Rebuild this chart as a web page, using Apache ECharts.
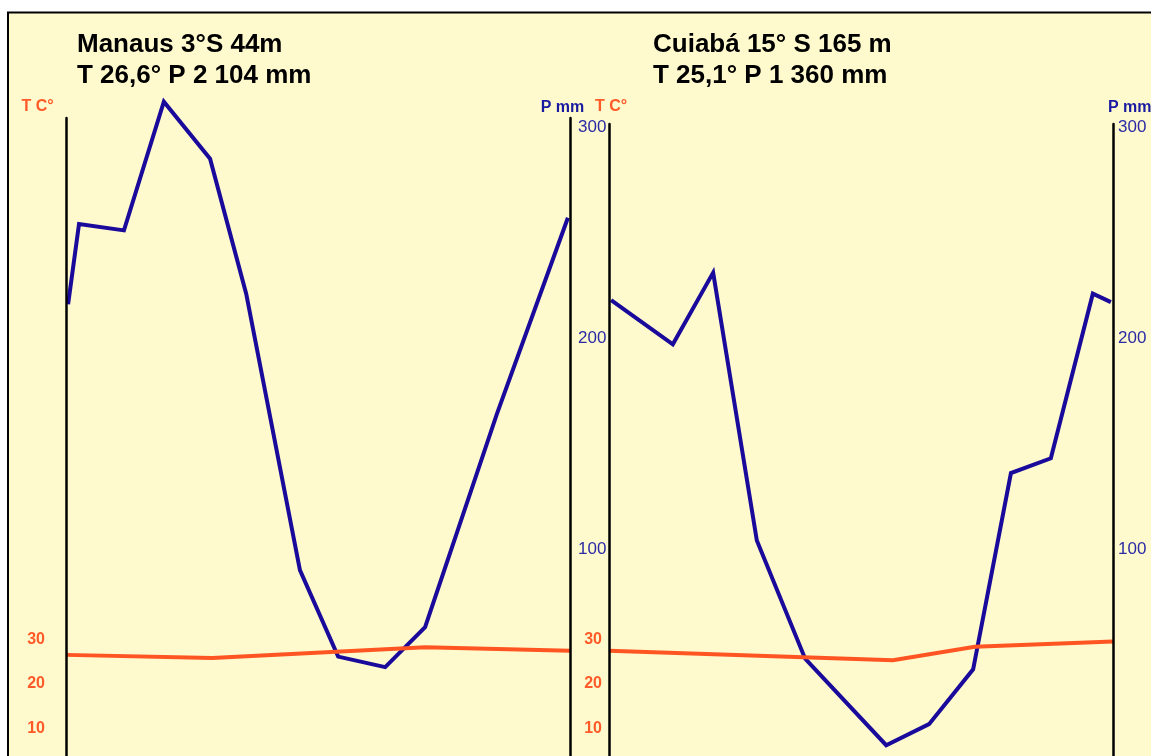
<!DOCTYPE html>
<html><head><meta charset="utf-8">
<script src="https://cdn.jsdelivr.net/npm/echarts@6/dist/echarts.min.js"></script>
<style>html,body{margin:0;padding:0;background:#ffffff}#c{width:1151px;height:756px}</style>
</head><body><div id="c"></div>
<script>
// ---- data ----
const titleManaus = ['Manaus 3°S 44m', 'T 26,6° P 2 104 mm'];
const titleCuiaba = ['Cuiabá 15° S 165 m', 'T 25,1° P 1 360 mm'];
// x position along the year (0..12, as drawn), precipitation mm
const manausPrecipPos = [0.05, 0.31, 1.38, 2.33, 3.43, 4.29, 5.57, 6.48, 7.6, 8.55, 10.26, 11.95];
const manausPrecip    = [216, 254, 251, 312, 285, 221, 90, 49, 44, 63, 164, 257];
const manausTempPos   = [0, 3.48, 8.55, 12];
const manausTemp      = [26.5, 25.8, 28.2, 27.4];
const cuiabaPrecipPos = [0.05, 1.52, 2.48, 3.52, 4.67, 6.6, 7.62, 8.67, 9.57, 10.52, 11.52, 11.95];
const cuiabaPrecip    = [218, 197, 231, 104, 48, 7, 17, 43, 136, 143, 221, 217];
const cuiabaTempPos   = [0, 6.76, 8.71, 12];
const cuiabaTemp      = [27.4, 25.3, 28.3, 29.5];
const precipTicks = [100, 200, 300];
const tempTicks   = [10, 20, 30];
const tempUnit = 'T C°';
const precipUnit = 'P mm';

// ---- styles / layout ----
const FONT = "'Liberation Sans', Arial, sans-serif";
const BLUE = '#1a0a9c';
const ORANGE = '#ff5522';
const LABEL_BLUE = '#2a2aa6';
const LABEL_ORANGE = '#ff5a28';
const PX_PER_MM = 2.11;     // vertical pixels per mm
const PX_PER_DEG = 4.45;    // vertical pixels per °C
const P_ZERO_Y = 760;       // pixel row of 0 mm (just below the picture)
const T_ZERO_Y = 772.8;     // pixel row of 0 °C
const VIEW_BOTTOM = 756;

function pairs(xs, ys) { return xs.map((x, i) => [x, ys[i]]); }

function panelGrids(left, top) {
  return [
    { left: left, top: top, width: 504, height: VIEW_BOTTOM - top },
    { left: left, top: top, width: 504, height: VIEW_BOTTOM - top }
  ];
}
const grids = panelGrids(66, 118).concat(panelGrids(609, 124));

const xAxes = [0,1,2,3].map(i => ({
  type: 'value', gridIndex: i, min: 0, max: 12, show: false
}));

function precipAxis(gi, top, margin) {
  return {
    type: 'value', gridIndex: gi, position: 'right',
    min: (P_ZERO_Y - VIEW_BOTTOM) / PX_PER_MM, max: (P_ZERO_Y - top) / PX_PER_MM,
    z: 5,
    axisLine: { show: true, onZero: false, lineStyle: { color: '#000', width: 2.5 } },
    axisTick: { show: false }, splitLine: { show: false },
    axisLabel: { customValues: precipTicks, margin: margin, color: LABEL_BLUE,
      fontSize: 17, fontFamily: FONT, verticalAlign: 'middle' }
  };
}
function tempAxis(gi, top, margin) {
  return {
    type: 'value', gridIndex: gi, position: 'left',
    min: (T_ZERO_Y - VIEW_BOTTOM) / PX_PER_DEG, max: (T_ZERO_Y - top) / PX_PER_DEG,
    z: 5,
    axisLine: { show: true, onZero: false, lineStyle: { color: '#000', width: 2.5 } },
    axisTick: { show: false }, splitLine: { show: false },
    axisLabel: { customValues: tempTicks, margin: margin, color: LABEL_ORANGE,
      fontSize: 16, fontWeight: 'bold', fontFamily: FONT, verticalAlign: 'middle' }
  };
}
const yAxes = [precipAxis(0, 118, 8), tempAxis(1, 118, 21), precipAxis(2, 124, 5), tempAxis(3, 124, 7)];

function lineSeries(name, xi, data, color, z) {
  return {
    name: name, type: 'line', xAxisIndex: xi, yAxisIndex: xi, data: data,
    showSymbol: false, symbol: 'none', z: z, silent: true, animation: false, clip: false,
    lineStyle: { color: color, width: 4, join: 'miter', cap: 'butt' }
  };
}

function unitText(x, y, text, color, align) {
  return { type: 'text', x: x, y: y, z: 50,
    style: { text: text, fill: color, font: 'bold 16px ' + FONT, textAlign: align, textVerticalAlign: 'middle' } };
}

const option = {
  animation: false,
  backgroundColor: '#ffffff',
  title: [
    { text: titleManaus.join('\n'), left: 77, top: 29.5, padding: 0,
      textStyle: { fontSize: 26, fontWeight: 'bold', color: '#000', fontFamily: FONT, lineHeight: 31 } },
    { text: titleCuiaba.join('\n'), left: 653, top: 29.5, padding: 0,
      textStyle: { fontSize: 26, fontWeight: 'bold', color: '#000', fontFamily: FONT, lineHeight: 31 } }
  ],
  graphic: [
    { type: 'rect', z: -100, shape: { x: 8, y: 12.5, width: 1300, height: 900 },
      style: { fill: '#fffacd', stroke: '#000', lineWidth: 2 } },
    unitText(37.5, 107, tempUnit, LABEL_ORANGE, 'center'),
    unitText(562.5, 107.5, precipUnit, '#1a1aa0', 'center'),
    unitText(611, 107, tempUnit, LABEL_ORANGE, 'center'),
    unitText(1108, 107.5, precipUnit, '#1a1aa0', 'left')
  ],
  grid: grids,
  xAxis: xAxes,
  yAxis: yAxes,
  series: [
    lineSeries('Manaus P', 0, pairs(manausPrecipPos, manausPrecip), BLUE, 2),
    lineSeries('Manaus T', 1, pairs(manausTempPos, manausTemp), ORANGE, 3),
    lineSeries('Cuiabá P', 2, pairs(cuiabaPrecipPos, cuiabaPrecip), BLUE, 2),
    lineSeries('Cuiabá T', 3, pairs(cuiabaTempPos, cuiabaTemp), ORANGE, 3)
  ]
};
const chart = echarts.init(document.getElementById('c'));
chart.setOption(option);
</script></body></html>
